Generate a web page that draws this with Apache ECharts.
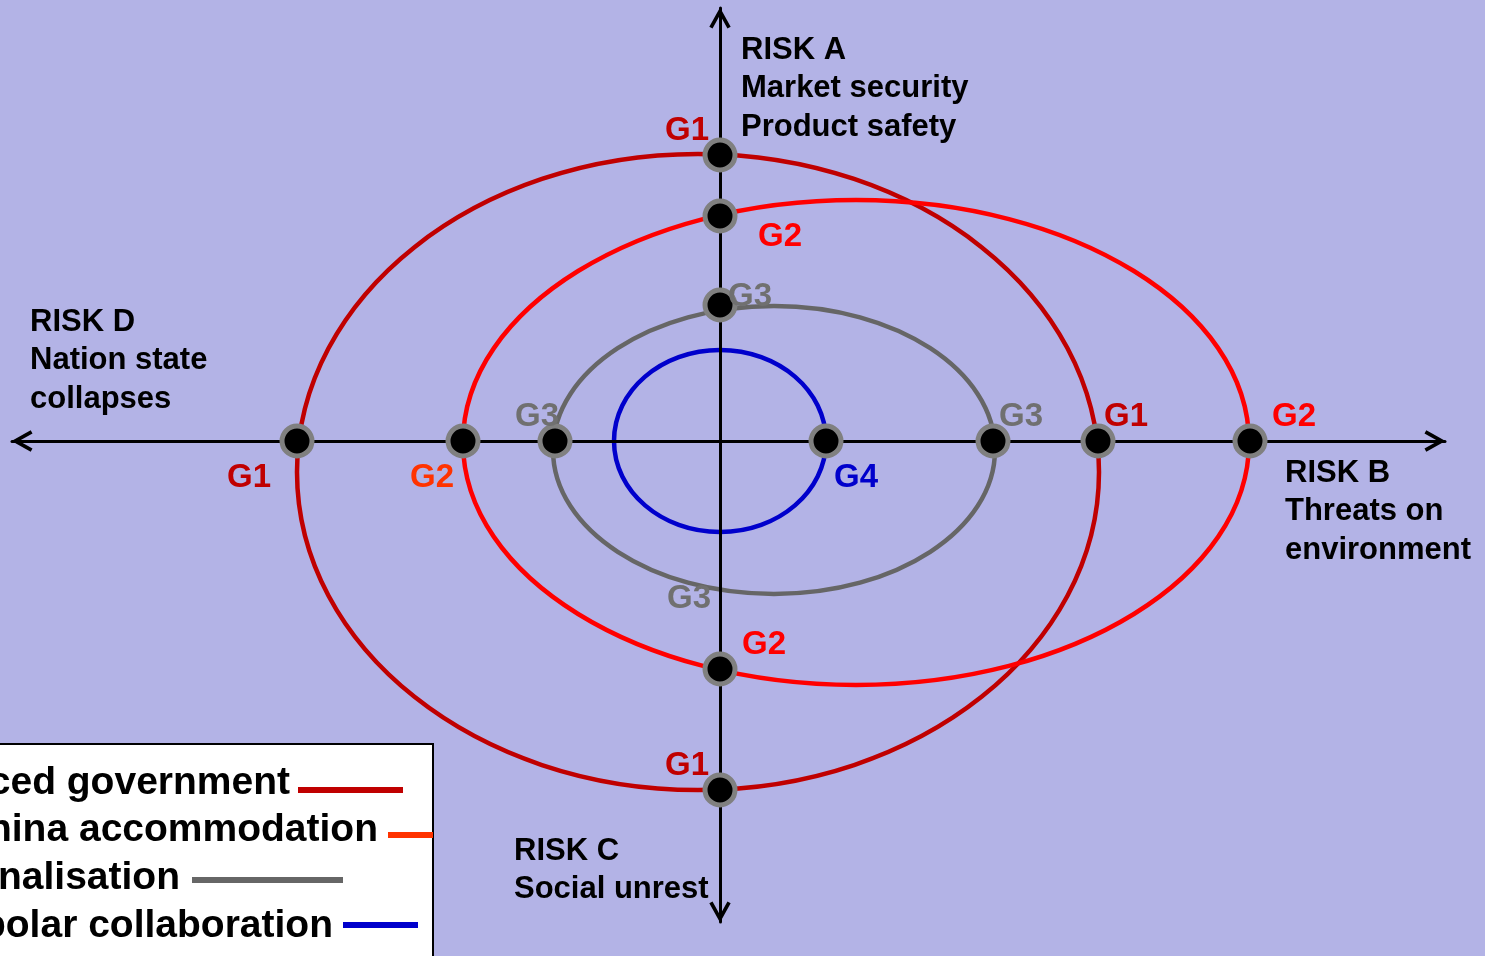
<!DOCTYPE html>
<html>
<head>
<meta charset="utf-8">
<script src="https://cdn.jsdelivr.net/npm/echarts@6/dist/echarts.min.js"></script>
<style>
html,body{margin:0;padding:0;background:#b3b3e6;}
#c{width:1485px;height:956px;}
</style>
</head>
<body>
<div id="c"></div>
<script>
// ---- DATA (risk plane units; the two risk axes cross at 0,0) ----
const scenarios = ['G1', 'G2', 'G3', 'G4'];
const legendNames = ['Enforced government', 'China accommodation', 'Regionalisation', 'Multipolar collaboration'];
const ellipseCx = [-22, 136, 54, 0];
const ellipseCy = [-31, -1.5, -9, 0];
const ellipseRx = [401, 393, 221, 106];
const ellipseRy = [318, 242.5, 144, 91];

// scenario positions on the risk axes (black dots)
const pointName = ['G1', 'G1', 'G1', 'G1', 'G2', 'G2', 'G2', 'G2', 'G3', 'G3', 'G3', 'G4'];
const pointX    = [0,    0,    -423, 378,  0,    0,    -257, 530,  0,    -165, 273,  106];
const pointY    = [286,  -349, 0,    0,    225,  -228, 0,    0,    136,  0,    0,    0];
// extra label without dot (G3 on the lower axis)
const markName = ['G3'];
const markX = [0];
const markY = [-149];

const riskTexts = [
  'RISK A\nMarket security\nProduct safety',
  'RISK B\nThreats on\nenvironment',
  'RISK C\nSocial unrest',
  'RISK D\nNation state\ncollapses'
];

// ---- STYLES ----
const ellipseColors = ['#c00000', '#ff0000', '#666666', '#0000cc'];
const legendColors = ['#c00000', '#ff3300', '#666666', '#0000cc'];
const labelColors = ['#c00000', '#c00000', '#c00000', '#c00000',
                     '#ff0000', '#ff0000', '#ff3300', '#ff0000',
                     '#707070', '#707070', '#707070', '#0000cc', '#707070'];
const labelOffsets = [[-33, -24], [-33, -24], [-48, 37], [28, -24],
                      [60, 21], [44, -24], [-31, 37], [44, -24],
                      [30, -8], [-18, -24], [28, -24], [30, 37], [-31, 9]];
const riskPos = [[741, 31], [1285, 454], [514, 832], [30, 303]];
const legendTextRight = [290, 378, 180, 333];
const legendY = [783, 830, 878, 926];
const legendLines = [[298, 403], [388, 433], [192, 343], [343, 418]];
const legendLineY = [790, 835, 880, 925];

const FONT = "'Liberation Sans', Arial, Helvetica, sans-serif";
const arrowPath = 'path://M10,0 L20,18 L17,19.7 L10,7.1 L3,19.7 L0,18 Z';

const axisCommon = {
  type: 'value',
  axisLine: {
    onZero: true,
    lineStyle: { color: '#000', width: 3 },
    symbol: [arrowPath, arrowPath],
    symbolSize: [22, 21],
    symbolOffset: [10, -10]
  },
  axisTick: { show: false },
  axisLabel: { show: false },
  splitLine: { show: false }
};

const labelNames = pointName.concat(markName);
const labelX = pointX.concat(markX);
const labelY = pointY.concat(markY);

const graphics = [];
riskTexts.forEach((t, i) => {
  graphics.push({
    type: 'text', x: riskPos[i][0], y: riskPos[i][1], z: 10,
    style: { text: t, fill: '#000', font: 'bold 31px ' + FONT, lineHeight: 38.5,
             textAlign: 'left', textVerticalAlign: 'top' }
  });
});
graphics.push({
  type: 'rect', z: 20,
  shape: { x: -10, y: 744, width: 443, height: 240 },
  style: { fill: '#ffffff', stroke: '#000000', lineWidth: 2 }
});
legendNames.forEach((n, i) => {
  graphics.push({
    type: 'text', x: legendTextRight[i], y: legendY[i], z: 21,
    style: { text: n, fill: '#000', font: 'bold 39px ' + FONT,
             textAlign: 'right', textVerticalAlign: 'middle' }
  });
  graphics.push({
    type: 'line', z: 21,
    shape: { x1: legendLines[i][0], y1: legendLineY[i], x2: legendLines[i][1], y2: legendLineY[i] },
    style: { stroke: legendColors[i], lineWidth: 6 }
  });
});

const chart = echarts.init(document.getElementById('c'));
chart.setOption({
  backgroundColor: '#b3b3e6',
  animation: false,
  grid: { left: 12, right: 40, top: 8, bottom: 34 },
  xAxis: Object.assign({}, axisCommon, { min: -708, max: 725 }),
  yAxis: Object.assign({}, axisCommon, { min: -481, max: 433 }),
  series: [
    {
      type: 'custom',
      z: -1,
      coordinateSystem: 'cartesian2d',
      data: scenarios.map((s, i) => [ellipseCx[i], ellipseCy[i], ellipseRx[i], ellipseRy[i]]),
      encode: { x: 0, y: 1 },
      renderItem: function (params, api) {
        const c = api.coord([api.value(0), api.value(1)]);
        const s = api.size([api.value(2), api.value(3)]);
        return {
          type: 'ellipse',
          shape: { cx: c[0], cy: c[1], rx: s[0], ry: s[1] },
          style: { fill: 'none', stroke: ellipseColors[params.dataIndex], lineWidth: 4.5 }
        };
      }
    },
    {
      type: 'scatter',
      z: 5,
      symbol: 'circle',
      symbolSize: 30,
      itemStyle: { color: '#000', borderColor: '#808080', borderWidth: 5, opacity: 1 },
      emphasis: { disabled: true },
      data: pointName.map((n, i) => ({ name: n, value: [pointX[i], pointY[i]] }))
    },
    {
      type: 'custom',
      z: 8,
      coordinateSystem: 'cartesian2d',
      data: labelNames.map((n, i) => [labelX[i], labelY[i], n]),
      encode: { x: 0, y: 1 },
      renderItem: function (params, api) {
        const i = params.dataIndex;
        const c = api.coord([api.value(0), api.value(1)]);
        return {
          type: 'text',
          x: c[0] + labelOffsets[i][0],
          y: c[1] + labelOffsets[i][1],
          style: {
            text: labelNames[i], fill: labelColors[i],
            font: 'bold 33px ' + FONT, textAlign: 'center', textVerticalAlign: 'middle'
          }
        };
      }
    }
  ],
  graphic: graphics
});
</script>
</body>
</html>
